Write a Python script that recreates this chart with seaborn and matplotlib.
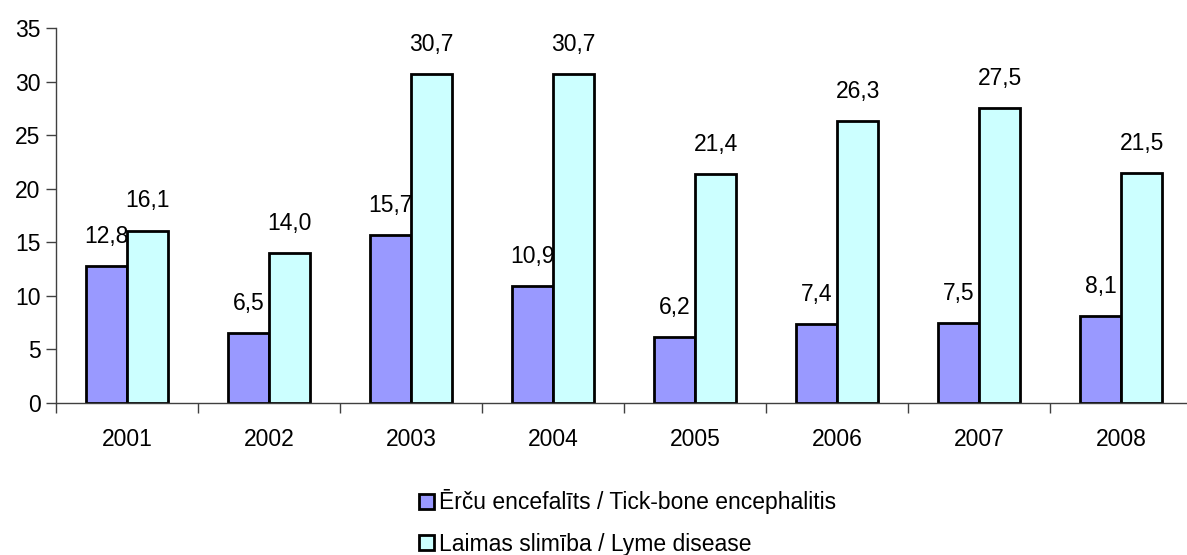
import pandas as pd
import numpy as np
import matplotlib.pyplot as plt
import seaborn as sns

years = ['2001', '2002', '2003', '2004', '2005', '2006', '2007', '2008']
tick_enc = [12.8, 6.5, 15.7, 10.9, 6.2, 7.4, 7.5, 8.1]
lyme = [16.1, 14.0, 30.7, 30.7, 21.4, 26.3, 27.5, 21.5]
series = ['Ērču encefalīts / Tick-bone encephalitis', 'Laimas slimība / Lyme disease']

df = pd.DataFrame({
    'year': years * 2,
    'value': tick_enc + lyme,
    'series': [series[0]] * len(years) + [series[1]] * len(years),
})

sns.set_style("white")
plt.rcParams['font.family'] = ['Liberation Sans', 'DejaVu Sans']
plt.rcParams['text.color'] = 'black'
fs = 16.5

fig = plt.figure(figsize=(11.87, 5.55), dpi=100)
ax = fig.add_axes([56/1187, 152/555, 1136/1187, 375/555])

sns.barplot(data=df, x='year', y='value', hue='series', order=years, hue_order=series,
            palette=['#9999FF', '#CCFFFF'], edgecolor='black', linewidth=2,
            width=0.58, saturation=1, ax=ax)

for c in ax.containers:
    ax.bar_label(c, labels=[('%.1f' % v).replace('.', ',') for v in c.datavalues],
                 padding=13, fontsize=fs, color='black')

ax.set_ylim(0, 35)
ax.set_xlim(-0.5, 7.5)
ax.set_yticks(range(0, 36, 5))
ax.set_xlabel('')
ax.set_ylabel('')
for s in ['top', 'right']:
    ax.spines[s].set_visible(False)
for s in ['left', 'bottom']:
    ax.spines[s].set_color('#404040')
    ax.spines[s].set_linewidth(1)
ax.tick_params(axis='y', left=True, length=7, width=1, color='#404040',
               labelsize=fs, labelcolor='black', pad=4)
ax.tick_params(axis='x', which='major', length=0, labelsize=fs, labelcolor='black', pad=18)
ax.set_xticks(np.arange(-0.5, 8, 1), minor=True)
ax.tick_params(axis='x', which='minor', bottom=True, length=7, width=1, color='#404040')

h, l = ax.get_legend_handles_labels()
ax.legend(h, l, loc='upper left', bbox_to_anchor=(408/1187, 1 - 478/555),
          bbox_transform=fig.transFigure, frameon=False, fontsize=fs,
          handlelength=0.65, handleheight=0.65, handletextpad=0.2,
          labelspacing=0.8, borderpad=0, labelcolor='black')

fig.savefig('out.png', dpi=100)
